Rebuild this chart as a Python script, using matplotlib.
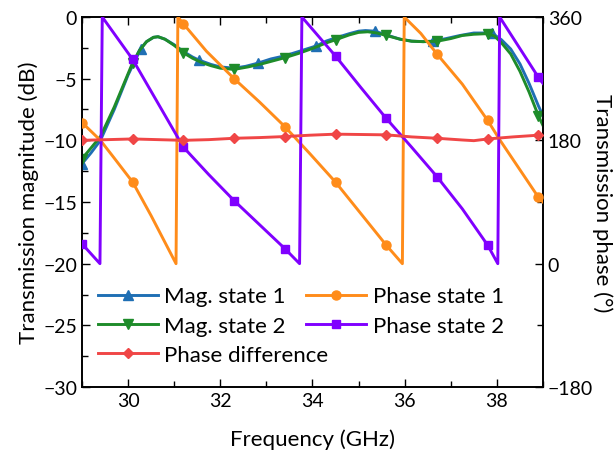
import numpy as np
import matplotlib
matplotlib.use("Agg")
import matplotlib.pyplot as plt

plt.rcParams['font.family'] = ['Lato', 'DejaVu Sans']

# ---- data ----
mag1_f = [29.0, 29.2, 29.4, 29.7, 30.0, 30.27, 30.4, 30.55, 30.65, 30.8, 31.0, 31.2, 31.4,
          31.54, 31.8, 32.0, 32.3, 32.55, 32.81, 33.1, 33.4, 33.7, 34.08, 34.3, 34.5, 34.8,
          35.0, 35.15, 35.35, 35.6, 35.9, 36.15, 36.4, 36.62, 36.9, 37.2, 37.5, 37.89, 38.1,
          38.3, 38.5, 38.7, 38.9, 39.0]
mag1_v = [-11.9, -11.0, -10.0, -7.5, -4.7, -2.6, -2.0, -1.65, -1.6, -1.8, -2.25, -2.8, -3.25,
          -3.5, -3.85, -4.05, -4.15, -4.0, -3.75, -3.4, -3.15, -2.8, -2.35, -1.95, -1.7, -1.35,
          -1.15, -1.1, -1.15, -1.45, -1.8, -1.95, -2.0, -1.95, -1.75, -1.5, -1.3, -1.3, -1.85,
          -2.6, -3.8, -5.4, -7.2, -8.0]
mag1_marks = [29.0, 30.27, 31.54, 32.81, 34.08, 35.35, 36.62, 37.89]

mag2_f = [29.0, 29.2, 29.4, 29.7, 30.0, 30.1, 30.25, 30.4, 30.55, 30.65, 30.8, 31.0, 31.2,
          31.4, 31.6, 31.8, 32.0, 32.3, 32.6, 32.9, 33.2, 33.4, 33.7, 34.0, 34.3, 34.5, 34.8,
          35.0, 35.2, 35.4, 35.6, 35.9, 36.15, 36.4, 36.7, 37.0, 37.25, 37.5, 37.8, 37.95,
          38.1, 38.3, 38.5, 38.7, 38.9, 39.0]
mag2_v = [-11.5, -10.6, -9.7, -7.3, -4.6, -3.7, -2.7, -2.0, -1.65, -1.6, -1.8, -2.3, -2.9,
          -3.35, -3.7, -3.95, -4.15, -4.25, -4.05, -3.8, -3.5, -3.3, -2.95, -2.55, -2.1, -1.85,
          -1.45, -1.25, -1.2, -1.3, -1.5, -1.8, -1.97, -2.0, -1.97, -1.75, -1.5, -1.4, -1.35,
          -1.55, -2.1, -3.0, -4.4, -6.1, -8.0, -8.8]
mag2_marks = [29.0, 30.1, 31.2, 32.3, 33.4, 34.5, 35.6, 36.7, 37.8, 38.9]

ph1_f = [29.0, 29.4, 29.7, 30.1, 30.5, 31.04, 31.08, 31.2, 31.7, 32.3, 32.85, 33.4, 33.95,
         34.5, 35.05, 35.6, 35.95, 35.99, 36.35, 36.7, 37.25, 37.8, 38.07, 38.5, 38.9, 39.0]
ph1_v = [206, 180, 154, 119, 70, 0, 360, 350, 310, 270, 236, 200, 160,
         119, 73, 27, 0, 360, 336, 306, 262, 209, 180, 137, 97, 90]
ph_marks = [29.0, 30.1, 31.2, 32.3, 33.4, 34.5, 35.6, 36.7, 37.8, 38.9]

ph2_f = [29.0, 29.39, 29.44, 30.1, 30.65, 31.2, 31.75, 32.3, 32.85, 33.4, 33.72, 33.77,
         34.5, 35.05, 35.6, 36.15, 36.7, 37.25, 37.8, 38.02, 38.06, 38.9, 39.0]
ph2_v = [29, 0, 360, 298, 234, 170, 130, 92, 57, 22, 0, 360,
         303, 257, 212, 170, 127, 80, 27, 0, 360, 272, 263]

diff_f = [29.0, 29.55, 30.1, 30.65, 31.2, 31.75, 32.3, 32.85, 33.4, 33.95, 34.5, 35.05,
          35.6, 36.15, 36.7, 37.25, 37.5, 37.8, 38.35, 38.9, 39.0]
diff_v = [180, 181, 182, 181, 180, 181, 183, 184, 185.5, 187.5, 189, 188.5,
          188, 185, 183, 180.5, 179.5, 182, 185, 187.5, 187.5]

labels = ["Mag. state 1", "Mag. state 2", "Phase state 1", "Phase state 2", "Phase difference"]
colors = ["#1f6fb4", "#1e8c2a", "#ff8c1a", "#8000ff", "#f04646"]


def mark_idx(xs, marks):
    xs = np.asarray(xs)
    return [int(np.argmin(np.abs(xs - m))) for m in marks]


fig = plt.figure(figsize=(6.15, 4.6), dpi=100)
ax = fig.add_axes([0.1333, 0.1565, 0.7496, 0.8044])
ax2 = ax.twinx()

lw = 2.1
ms = 6.5
h1, = ax.plot(mag1_f, mag1_v, color=colors[0], lw=lw, marker='^', ms=ms,
              markevery=mark_idx(mag1_f, mag1_marks), label=labels[0], zorder=3)
h2, = ax.plot(mag2_f, mag2_v, color=colors[1], lw=lw, marker='v', ms=ms,
              markevery=mark_idx(mag2_f, mag2_marks), label=labels[1], zorder=4)
h3, = ax2.plot(ph1_f, ph1_v, color=colors[2], lw=lw, marker='o', ms=ms,
               markevery=mark_idx(ph1_f, ph_marks), label=labels[2], zorder=3)
h4, = ax2.plot(ph2_f, ph2_v, color=colors[3], lw=lw, marker='s', ms=ms - 0.5,
               markevery=mark_idx(ph2_f, ph_marks), label=labels[3], zorder=4)
h5, = ax2.plot(diff_f, diff_v, color=colors[4], lw=lw, marker='D', ms=ms - 1,
               markevery=mark_idx(diff_f, ph_marks), label=labels[4], zorder=5)

tfs = 14
lfs = 16
ax.set_xlim(29, 39)
ax.set_ylim(-30, 0)
ax2.set_ylim(-180, 360)
ax.set_xticks([30, 32, 34, 36, 38])
ax.set_xticks(np.arange(29, 40, 1), minor=True)
ax.set_yticks(np.arange(-30, 1, 5))
ax.set_yticks(np.arange(-30, 0.1, 2.5), minor=True)
ax2.set_yticks([-180, 0, 180, 360])
ax2.set_yticks(np.arange(-180, 361, 90), minor=True)

ax.tick_params(which='both', direction='in', top=True, right=False, labelsize=tfs)
ax.tick_params(which='major', length=6, width=1)
ax.tick_params(which='minor', length=4, width=1)
ax2.tick_params(which='both', direction='in', labelsize=tfs)
ax2.tick_params(which='major', length=6, width=1)
ax2.tick_params(which='minor', length=4, width=1)

ax.set_xlabel("Frequency (GHz)", fontsize=lfs, labelpad=14)
ax.set_ylabel("Transmission magnitude (dB)", fontsize=lfs, labelpad=3)
ax2.set_ylabel("Transmission phase (°)", fontsize=lfs, rotation=270, labelpad=14)

for a in (ax, ax2):
    for s in a.spines.values():
        s.set_linewidth(1.2)

leg = ax2.legend(handles=[h1, h2, h5, h3, h4], ncol=2, frameon=False, fontsize=lfs,
                 loc='lower left', bbox_to_anchor=(0.0, 0.017), handlelength=2.7,
                 handletextpad=0.3, columnspacing=-1.0, labelspacing=0.42,
                 borderaxespad=0.3)

fig.savefig("out.png", dpi=100)
